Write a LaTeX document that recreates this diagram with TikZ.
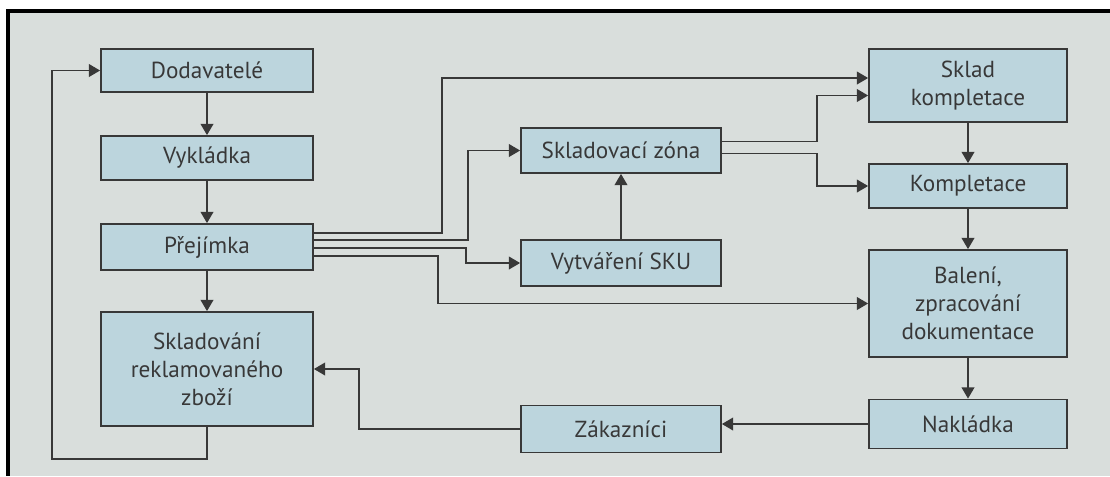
\documentclass[tikz,border=0pt]{standalone}
\usepackage{fontspec}
\setmainfont{PT Sans}
\usetikzlibrary{arrows.meta,calc}
\definecolor{paper}{HTML}{D9DEDC}
\definecolor{boxfill}{HTML}{BCD5DD}
\definecolor{ink}{HTML}{383838}

\begin{document}
\begin{tikzpicture}[x=0.025cm, y=-0.025cm,
    box/.style={draw=ink, line width=1.3pt, fill=boxfill, text=ink, align=center,
      inner sep=0pt, font=\fontsize{16.5}{20}\selectfont},
    flow/.style={draw=ink, line width=0.9pt, -{Triangle[length=2.8mm,width=3.2mm]}}]
  \def \u {0.025cm};

  \useasboundingbox (0,0) rectangle (1110,476);
  \fill[white] (0,0) rectangle (1110,476);
  \fill[paper] (8,11) rectangle (1110,476);
  \draw[line width=2.5pt] (1110,11) -- (8,11) -- (8,476);

  % left column
  \node (dod) at (207,70.5) [box, minimum width=212*\u, minimum height=43*\u] {Dodavatelé};
  \node (vyk) at (207,158) [box, minimum width=212*\u, minimum height=44*\u] {Vykládka};
  \node (pre) at (207,247) [box, minimum width=212*\u, minimum height=46*\u] {Přejímka};
  \node (skr) at (207,369) [box, minimum width=212*\u, minimum height=114*\u] {Skladování\\reklamovaného\\zboží};

  % middle column
  \node (szona) at (621,150.5) [box, minimum width=200*\u, minimum height=45*\u] {Skladovací zóna};
  \node (sku) at (621,263) [box, minimum width=200*\u, minimum height=46*\u] {Vytváření SKU};
  \node (zak) at (621,429) [box, minimum width=200*\u, minimum height=47*\u] {Zákazníci};

  % right column
  \node (skom) at (968,85.5) [box, minimum width=198*\u, minimum height=73*\u] {Sklad\\kompletace};
  \node (kom) at (968,186) [box, minimum width=198*\u, minimum height=44*\u] {Kompletace};
  \node (bal) at (968,303.5) [box, minimum width=198*\u, minimum height=107*\u] {Balení,\\zpracování\\dokumentace};
  \node (nak) at (968,424) [box, minimum width=198*\u, minimum height=49*\u] {Nakládka};

  \draw[flow] (dod) -- (vyk);
  \draw[flow] (vyk) -- (pre);
  \draw[flow] (pre) -- (skr);

  % return loop back to the suppliers
  \coordinate (loop) at (52,459);
  \draw[flow] (skr.south) |- (loop) |- (dod.west);

  % branches leaving Prejimka
  \coordinate (up) at (442,78);
  \draw[flow] ($(pre.east)+(0,-14)$) -| (up) -- (up -| skom.west);
  \draw[flow] ($(pre.east)+(0,-7)$) -| ($(szona.west)+(-52,0)$) -- (szona.west);
  \draw[flow] ($(pre.east)+(0,1)$) -| ($(sku.west)+(-54,0)$) -- (sku.west);
  \draw[flow] ($(pre.east)+(0,9)$) -| ($(bal.west)+(-430,0)$) -- (bal.west);

  \draw[flow] (sku) -- (szona);
  \draw[flow] ($(szona.east)+(0,-9)$) -| ($(skom.west)+(-51,10)$) -- ($(skom.west)+(0,10)$);
  \draw[flow] ($(szona.east)+(0,3)$) -| ($(kom.west)+(-51,0)$) -- (kom.west);

  \draw[flow] (skom) -- (kom);
  \draw[flow] (kom) -- (bal);
  \draw[flow] (bal) -- (nak);
  \draw[flow] (nak.west) -- (nak.west -| zak.east);
  \draw[flow] (zak.west) -| ($(skr.east)+(45,0)$) -- (skr.east);
\end{tikzpicture}
\end{document}
